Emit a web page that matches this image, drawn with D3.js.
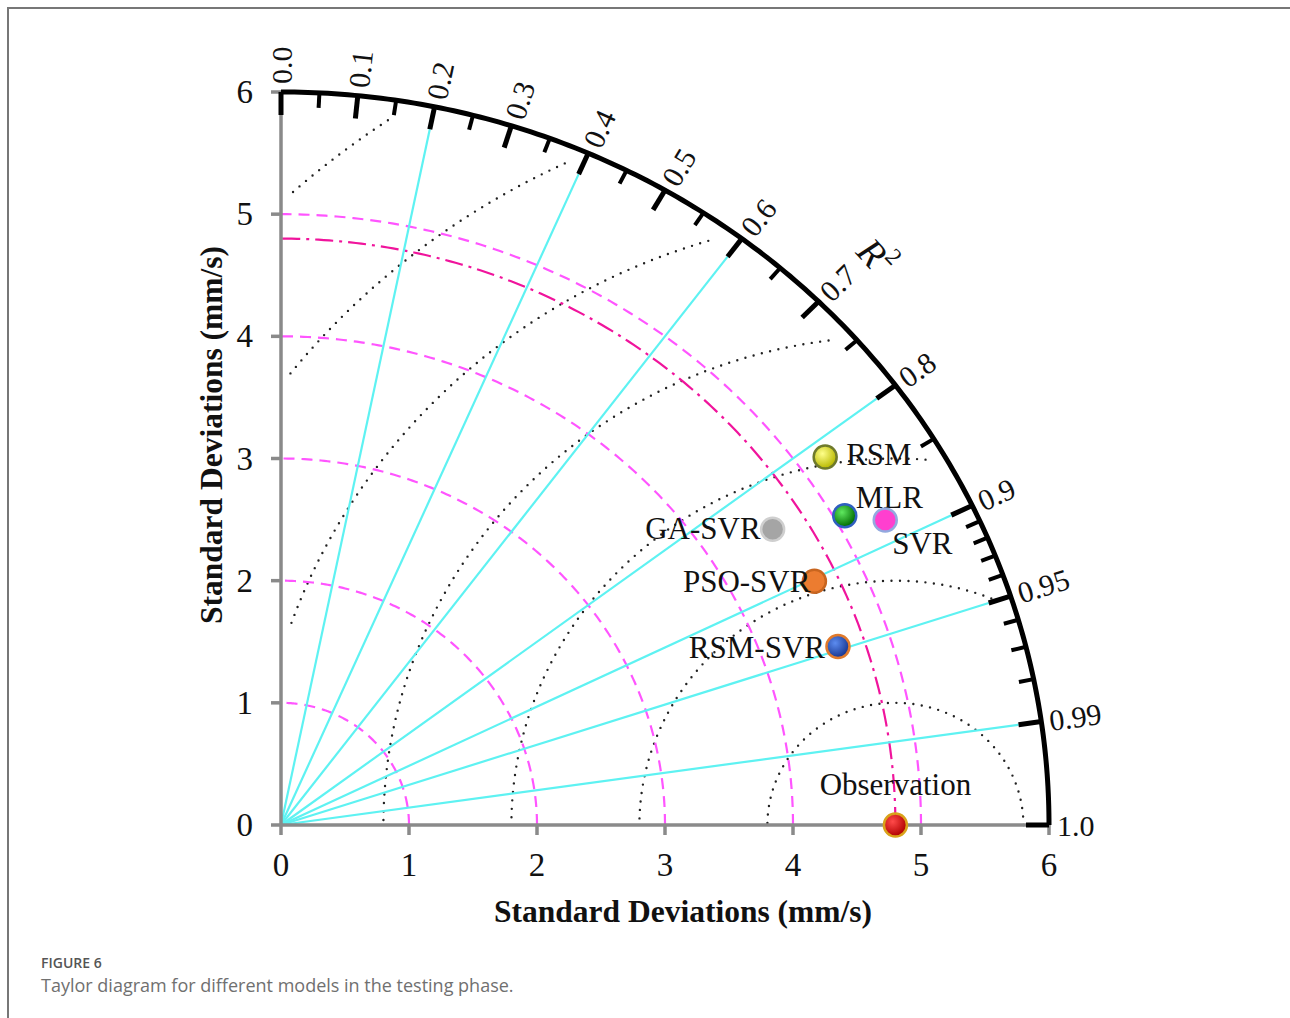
<!DOCTYPE html>
<html>
<head>
<meta charset="utf-8">
<script src="https://cdn.jsdelivr.net/npm/d3@7"></script>
<style>
  body { margin: 0; background: #fff; }
  .serif { font-family: "Liberation Serif", "Times New Roman", serif; }
  .caption { font-family: "Open Sans", "Noto Sans", sans-serif; }
</style>
</head>
<body>
<svg id="chart" width="1290" height="1018"></svg>
<script>
// models and their statistics (testing phase)
const models = ["RSM", "MLR", "SVR", "GA-SVR", "PSO-SVR", "RSM-SVR"];
const stdDev = [5.21, 5.08, 5.34, 4.54, 4.62, 4.59];
const corrCoef = [0.816, 0.867, 0.884, 0.846, 0.902, 0.948];
const obsStd = 4.8;

// grid / tick values
const stdTicks = [0, 1, 2, 3, 4, 5, 6];
const stdArcs = [1, 2, 3, 4, 5];
const rmsArcs = [1, 2, 3, 4, 5, 6, 7];
const corrMajor = [0.0, 0.1, 0.2, 0.3, 0.4, 0.5, 0.6, 0.7, 0.8, 0.9, 0.95, 0.99, 1.0];
const corrMinor = [0.05, 0.15, 0.25, 0.35, 0.45, 0.55, 0.65, 0.75, 0.85,
                   0.91, 0.92, 0.93, 0.94, 0.96, 0.97, 0.98];
const corrLines = [0.2, 0.4, 0.6, 0.8, 0.9, 0.95, 0.99];

// marker look + label placement
const markerStyle = {
  "RSM":        { light: "#ffff8a", dark: "#b8b800", stroke: "#6f7a2c", dx: 21,  dy: 8,  anchor: "start" },
  "MLR":        { light: "#5fe85f", dark: "#006a00", stroke: "#2f5fbf", dx: 11,  dy: -8, anchor: "start" },
  "SVR":        { flat: "#ff3fcf", stroke: "#93a9df", dx: 7,   dy: 34, anchor: "start" },
  "GA-SVR":     { flat: "#a5a5a5", stroke: "#cfcfcf", dx: -12, dy: 10, anchor: "end" },
  "PSO-SVR":    { flat: "#ec7c30", stroke: "#c8651f", dx: -4,  dy: 11, anchor: "end" },
  "RSM-SVR":    { light: "#5c8cf0", dark: "#17358f", stroke: "#e07a2c", dx: -13, dy: 11, anchor: "end" },
  "Observation":{ light: "#ff4a4a", dark: "#b00000", stroke: "#d9a21a", dx: 0,   dy: -30, anchor: "middle" }
};

const width = 1290, height = 1018;
const svg = d3.select("#chart");

// frame
svg.append("path")
  .attr("d", `M8,${height} V8 H${width}`)
  .attr("fill", "none").attr("stroke", "#777").attr("stroke-width", 2);

// scales (data units: mm/s)
const x = d3.scaleLinear().domain([0, 6]).range([281, 1049]);
const y = d3.scaleLinear().domain([0, 6]).range([825, 92]);
const rMax = 6;

const pt = (r, th) => [x(r * Math.cos(th)), y(r * Math.sin(th))];
const line = d3.line().defined(d => d != null);
const deg = Math.PI / 180;

const defs = svg.append("defs");
Object.entries(markerStyle).forEach(([name, s]) => {
  if (s.flat) return;
  const g = defs.append("radialGradient")
    .attr("id", "g-" + name)
    .attr("cx", "38%").attr("cy", "35%").attr("r", "65%");
  g.append("stop").attr("offset", "0%").attr("stop-color", s.light);
  g.append("stop").attr("offset", "100%").attr("stop-color", s.dark);
});

const grid = svg.append("g");

// RMS-difference arcs around observation (dotted)
rmsArcs.forEach(rr => {
  const pts = d3.range(0, 180.01, 0.5).map(a => {
    const dx = obsStd + rr * Math.cos(a * deg), dy = rr * Math.sin(a * deg);
    if (dx < 0.06 || Math.hypot(dx, dy) > 5.86) return null;
    return [x(dx), y(dy)];
  });
  grid.append("path")
    .attr("d", line(pts))
    .attr("fill", "none")
    .attr("stroke", "#222")
    .attr("stroke-width", 2.4)
    .attr("stroke-linecap", "round")
    .attr("stroke-dasharray", "0 8.5");
});

// standard deviation arcs (dashed magenta)
const quarter = r => line(d3.range(0, 90.01, 0.5).map(a => pt(r, a * deg)));
stdArcs.forEach(r => {
  grid.append("path")
    .attr("d", quarter(r))
    .attr("fill", "none")
    .attr("stroke", "#ff55ff")
    .attr("stroke-width", 2.2)
    .attr("stroke-dasharray", "11 7");
});
// observation std arc (dash-dot)
grid.append("path")
  .attr("d", quarter(obsStd))
  .attr("fill", "none")
  .attr("stroke", "#f0149c")
  .attr("stroke-width", 2.2)
  .attr("stroke-dasharray", "18 6 3 6");

// tick geometry on the outer arc
function tickSeg(R, len) {
  const p = pt(rMax, Math.acos(R));
  const vx = x(0) - p[0], vy = y(0) - p[1];
  const n = Math.hypot(vx, vy);
  return { p, q: [p[0] + vx / n * len, p[1] + vy / n * len], ux: -vx / n, uy: -vy / n };
}

// correlation lines (cyan)
corrLines.forEach(R => {
  const t = tickSeg(R, 23);
  grid.append("line")
    .attr("x1", x(0)).attr("y1", y(0))
    .attr("x2", t.q[0]).attr("y2", t.q[1])
    .attr("stroke", "#5ef2f2").attr("stroke-width", 2.2);
});

// axes (gray)
const axisG = svg.append("g").attr("stroke", "#8a8a8a").attr("stroke-width", 3.5);
axisG.append("line").attr("x1", x(0)).attr("y1", y(0)).attr("x2", x(0)).attr("y2", y(6));
axisG.append("line").attr("x1", x(0)).attr("y1", y(0)).attr("x2", x(6)).attr("y2", y(0));
stdTicks.forEach(v => {
  axisG.append("line").attr("x1", x(0) - 10).attr("x2", x(0)).attr("y1", y(v)).attr("y2", y(v));
  axisG.append("line").attr("x1", x(v)).attr("x2", x(v)).attr("y1", y(0)).attr("y2", y(0) + 10);
});

// outer arc
svg.append("path")
  .attr("d", quarter(rMax))
  .attr("fill", "none").attr("stroke", "#000").attr("stroke-width", 5);

// arc ticks
corrMajor.forEach(R => {
  const t = tickSeg(R, 23);
  svg.append("line")
    .attr("x1", t.p[0]).attr("y1", t.p[1]).attr("x2", t.q[0]).attr("y2", t.q[1])
    .attr("stroke", "#000").attr("stroke-width", 5);
});
corrMinor.forEach(R => {
  const t = tickSeg(R, 15);
  svg.append("line")
    .attr("x1", t.p[0]).attr("y1", t.p[1]).attr("x2", t.q[0]).attr("y2", t.q[1])
    .attr("stroke", "#000").attr("stroke-width", 4);
});

// arc labels
const fmt = v => (Math.round(v * 100) % 10 === 0 ? v.toFixed(1) : v.toFixed(2));
corrMajor.forEach(R => {
  const t = tickSeg(R, 0);
  const lx = t.p[0] + t.ux * 8, ly = t.p[1] + t.uy * 8;
  const ang = Math.atan2(t.uy, t.ux) / deg;
  svg.append("text")
    .attr("class", "serif")
    .attr("transform", `translate(${lx},${ly}) rotate(${ang})`)
    .attr("dominant-baseline", "central")
    .attr("font-size", 30)
    .attr("fill", "#111")
    .text(fmt(R));
});

// R² title on arc
{
  const t = tickSeg(Math.cos(45 * deg), 0);
  svg.append("text")
    .attr("class", "serif")
    .attr("transform", `translate(${t.p[0] + t.ux * 72},${t.p[1] + t.uy * 72}) rotate(47)`)
    .attr("text-anchor", "middle")
    .attr("dominant-baseline", "central")
    .attr("font-size", 38)
    .attr("font-style", "italic")
    .attr("fill", "#111")
    .html('R<tspan font-size="24" font-style="normal" dy="-13">2</tspan>');
}

// axis labels
stdTicks.forEach(v => {
  svg.append("text").attr("class", "serif")
    .attr("x", x(0) - 28).attr("y", y(v) + 11)
    .attr("text-anchor", "end").attr("font-size", 33).attr("fill", "#111")
    .text(v);
  svg.append("text").attr("class", "serif")
    .attr("x", x(v)).attr("y", y(0) + 51)
    .attr("text-anchor", "middle").attr("font-size", 33).attr("fill", "#111")
    .text(v);
});

svg.append("text").attr("class", "serif")
  .attr("x", 683).attr("y", 922)
  .attr("text-anchor", "middle").attr("font-size", 31.5).attr("font-weight", "bold")
  .attr("fill", "#111")
  .text("Standard Deviations (mm/s)");
svg.append("text").attr("class", "serif")
  .attr("transform", "translate(222,435) rotate(-90)")
  .attr("text-anchor", "middle").attr("font-size", 31.5).attr("font-weight", "bold")
  .attr("fill", "#111")
  .text("Standard Deviations (mm/s)");

// points
const pts = models.map((m, i) => ({ name: m, s: stdDev[i], r: corrCoef[i] }))
  .concat([{ name: "Observation", s: obsStd, r: 1 }]);

const pg = svg.append("g");
pts.forEach(d => {
  const st = markerStyle[d.name];
  const [px, py] = pt(d.s, Math.acos(d.r));
  pg.append("circle")
    .attr("cx", px).attr("cy", py).attr("r", 11.5)
    .attr("fill", st.flat ? st.flat : `url(#g-${d.name})`)
    .attr("stroke", st.stroke).attr("stroke-width", 2.5);
  pg.append("text").attr("class", "serif")
    .attr("x", px + st.dx).attr("y", py + st.dy)
    .attr("text-anchor", st.anchor)
    .attr("font-size", 31).attr("fill", "#111")
    .text(d.name);
});

// caption
svg.append("text").attr("class", "caption")
  .attr("x", 41).attr("y", 968)
  .attr("font-size", 14).attr("font-weight", 600).attr("fill", "#555")
  .text("FIGURE 6");
svg.append("text").attr("class", "caption")
  .attr("x", 41).attr("y", 992)
  .attr("font-size", 18).attr("fill", "#707070")
  .text("Taylor diagram for different models in the testing phase.");
</script>
</body>
</html>
